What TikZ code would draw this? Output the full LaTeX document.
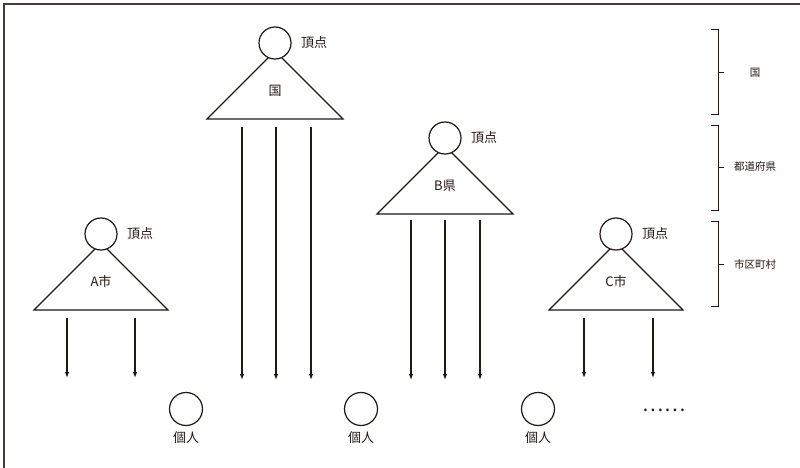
\documentclass[tikz,border=0pt]{standalone}
\usepackage{fontspec}
\setmainfont{Noto Sans CJK JP}
\usetikzlibrary{arrows.meta}
\definecolor{ink}{HTML}{231815}
\tikzset{
  lbl/.style={font=\fontsize{13}{13}\selectfont, text=ink, inner sep=0pt},
  small/.style={font=\fontsize{10.5}{10.5}\selectfont, text=ink, inner sep=0pt},
  head/.style={circle, draw=ink, fill=white, line width=1.2pt, minimum size=32pt, inner sep=0pt},
  tri/.style={draw=ink, line width=1.2pt, line join=miter},
  down/.style={draw=ink, line width=1.1pt, -{Latex[length=6pt,width=4.5pt]}},
  brk/.style={draw=ink, line width=1pt},
}
% one organisation: triangle with a head circle on top
\newcommand{\orgtri}[5]{% name, x, base y, half width, label
  \coordinate (#1-l) at (#2-#4,#3);
  \coordinate (#1-r) at (#2+#4,#3);
  \coordinate (#1-t) at (#2,#3-#4);
  \draw[tri] (#1-l) -- (#1-t) -- (#1-r) -- cycle;
  \node[head] (#1-h) at (#2,#3-76) {};
  \node[lbl, anchor=west] (#1-v) at (#2+26,#3-76) {頂点};
  \node[lbl] (#1-n) at (#2,#3-28) {#5};
}
\begin{document}
\begin{tikzpicture}[x=1pt,y=-1pt]
\useasboundingbox (0,0) rectangle (800,468);
\fill[white] (0,0) rectangle (800,468);
% frame
\draw[ink!85, line width=1.5pt] (4,468) -- (4,4) -- (800,4);

% organisations
\orgtri{kuni}{275}{119}{68}{国}
\orgtri{ken}{445}{214}{68}{B県}
\orgtri{shiA}{101}{310}{67}{A市}
\orgtri{shiC}{616}{310}{67}{C市}

% arrow end points
\foreach \x/\n in {242/k1,276/k2,311/k3}{
  \coordinate (\n-s) at (\x,127); \coordinate (\n-e) at (\x,380);
  \draw[down] (\n-s) -- (\n-e);}
\foreach \x/\n in {411/b1,445/b2,480/b3}{
  \coordinate (\n-s) at (\x,220); \coordinate (\n-e) at (\x,380);
  \draw[down] (\n-s) -- (\n-e);}
\foreach \x/\n in {67/a1,135/a2,584/c1,653/c2}{
  \coordinate (\n-s) at (\x,318); \coordinate (\n-e) at (\x,378);
  \draw[down] (\n-s) -- (\n-e);}

% individuals
\foreach \x/\n in {186/p1,361/p2,538/p3}{
  \node[head, minimum size=33pt] (\n) at (\x,409) {};
  \node[lbl] (\n-t) at (\x,438) {個人};}
\node[font=\fontsize{20}{20}\selectfont, text=ink, inner sep=0pt] (dots) at (664,410) {……};

% level brackets
\foreach \t/\m/\b/\txt/\n in {30/73/115/国/L1,126/167/210/都道府県/L2,221/264/306/市区町村/L3}{
  \coordinate (\n-a) at (711,\t);
  \coordinate (\n-z) at (711,\b);
  \coordinate (\n-m) at (718,\m);
  \coordinate (\n-q) at (724,\m);
  \draw[brk] (\n-a) -- (718,\t) -- (718,\b) -- (\n-z);
  \draw[brk] (\n-m) -- (\n-q);
  \node[small] (\n-lab) at (755,\m) {\txt};}
\end{tikzpicture}
\end{document}
